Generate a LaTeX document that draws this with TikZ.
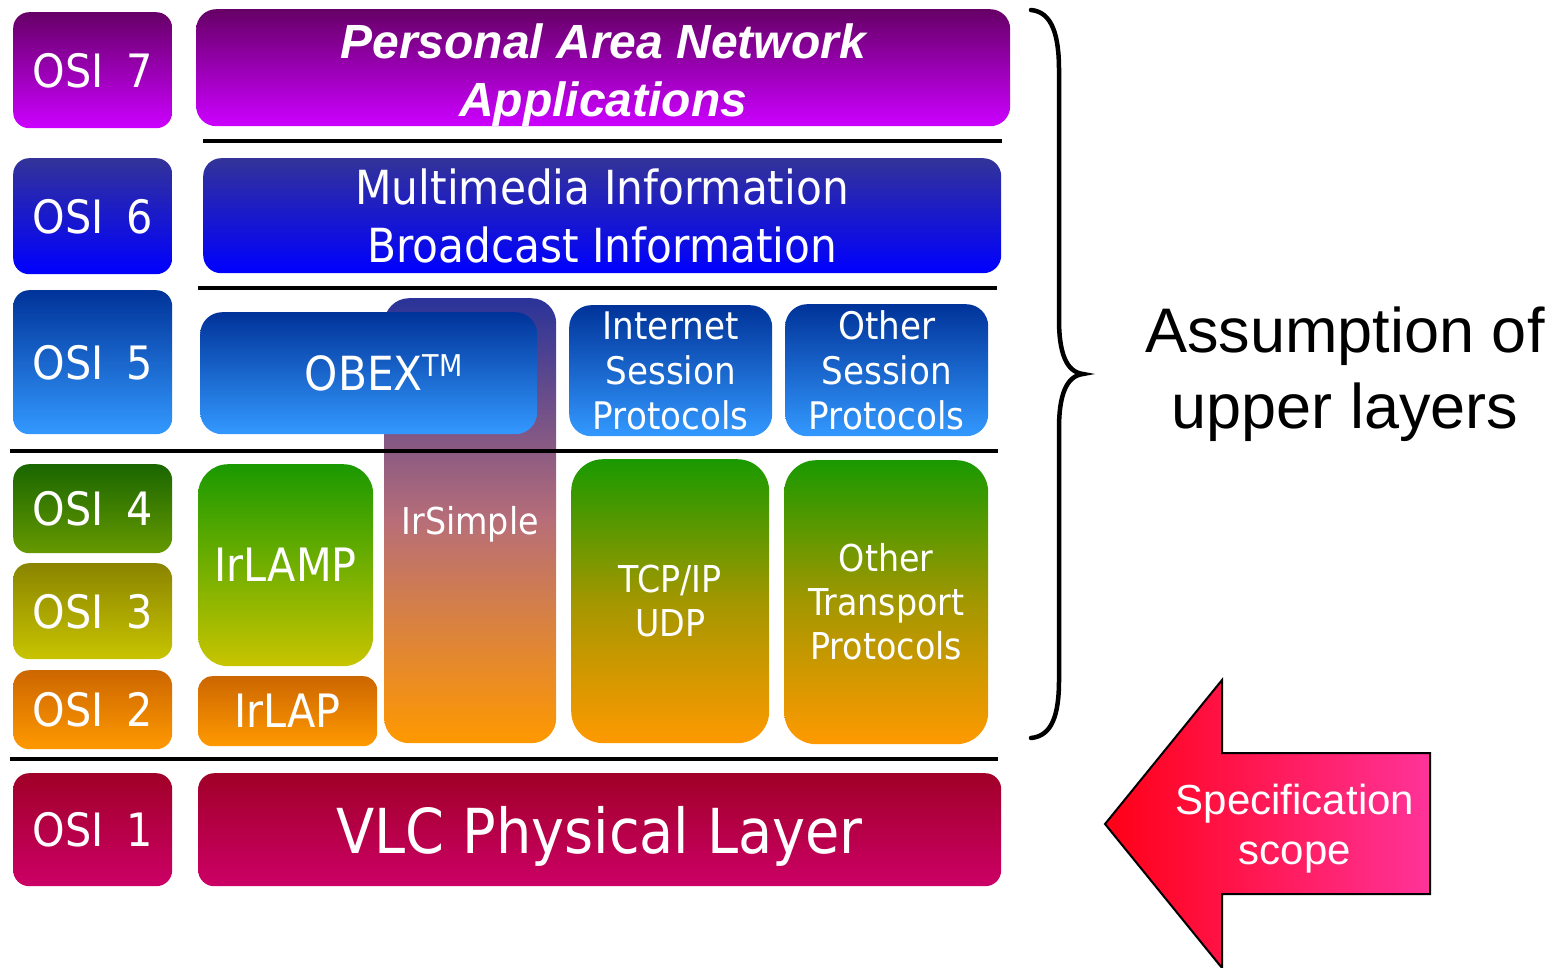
\documentclass[tikz,border=0pt]{standalone}
\usepackage{fontspec}
\newfontfamily\tah{DejaVu Sans}[FakeStretch=0.9]
\newfontfamily\ari{Liberation Sans}
\definecolor{cSevT}{HTML}{660066}
\definecolor{cSevB}{HTML}{CC00FF}
\definecolor{cSixT}{HTML}{333399}
\definecolor{cSixB}{HTML}{0000FF}
\definecolor{cFivT}{HTML}{003399}
\definecolor{cFivB}{HTML}{3399FF}
\definecolor{cFouT}{HTML}{1A6600}
\definecolor{cFouB}{HTML}{669900}
\definecolor{cThrT}{HTML}{8A8400}
\definecolor{cThrB}{HTML}{C8C400}
\definecolor{cTwoT}{HTML}{CC6600}
\definecolor{cTwoB}{HTML}{FF9900}
\definecolor{cOneT}{HTML}{A00028}
\definecolor{cOneB}{HTML}{CC0066}
\definecolor{cGrn}{HTML}{1A9900}
\definecolor{cOlv}{HTML}{A39700}
\definecolor{cIrs}{HTML}{2A3399}
\definecolor{cIrm}{HTML}{B86E78}
\definecolor{cArL}{HTML}{FF0016}
\definecolor{cArR}{HTML}{FF3399}
\newcommand{\osilabel}[1]{OSI\hspace{0.5em}#1}
\tikzset{
  lay/.style={anchor=north west, inner sep=0pt, text=white, align=center},
  osi/.style={lay, rounded corners=16pt, minimum width=159pt, text depth=0pt, font=\tah\fontsize{46}{50}\selectfont},
  sep/.style={line width=4pt, black},
  grad/.style n args={2}{top color=#1, bottom color=#2},
  tri/.style n args={3}{top color=#1, bottom color=#3, middle color=#2},
  small/.style={font=\tah\fontsize{38}{45}\selectfont},
}
\begin{document}
\begin{tikzpicture}[x=1pt,y=-1pt]
\useasboundingbox (0,0) rectangle (1552,968);
% OSI column
\node[osi, grad={cSevT}{cSevB}, minimum height=116pt] (osi7) at (13,12) {\osilabel{7}};
\node[osi, grad={cSixT}{cSixB}, minimum height=116pt] (osi6) at (13,158) {\osilabel{6}};
\node[osi, grad={cFivT}{cFivB}, minimum height=144pt] (osi5) at (13,290) {\osilabel{5}};
\node[osi, grad={cFouT}{cFouB}, minimum height=89pt] (osi4) at (13,464) {\osilabel{4}};
\node[osi, grad={cThrT}{cThrB}, minimum height=96pt] (osi3) at (13,563) {\osilabel{3}};
\node[osi, grad={cTwoT}{cTwoB}, minimum height=79pt] (osi2) at (13,670) {\osilabel{2}};
\node[osi, grad={cOneT}{cOneB}, minimum height=113pt] (osi1) at (13,773) {\osilabel{1}};
% layer boxes
\node[lay, rounded corners=20pt, grad={cSevT}{cSevB}, minimum width=814pt, minimum height=116pt,
  font=\ari\bfseries\itshape\fontsize{48}{58}\selectfont] (pan) at (196,9) {\rule{0pt}{49pt}Personal Area Network\\Applications};
\node[lay, rounded corners=18pt, grad={cSixT}{cSixB}, minimum width=798pt, minimum height=115pt,
  font=\tah\fontsize{47}{58}\selectfont] (mm) at (203,158) {Multimedia Information\\Broadcast Information};
\node[lay, rounded corners=25pt, tri={cIrs}{cIrm}{cTwoB}, minimum width=172pt, minimum height=445pt,
  text depth=0pt, font=\tah\fontsize{37}{44}\selectfont] (irs) at (384,298) {IrSimple};
\node[lay, rounded corners=22pt, grad={cFivT}{cFivB}, minimum width=337pt, minimum height=122pt,
  font=\tah\fontsize{47}{50}\selectfont] (obex) at (200,312) {\hspace*{30pt}OBEX\raisebox{14pt}{\fontsize{30}{30}\selectfont TM}};
\node[lay, small, rounded corners=22pt, grad={cFivT}{cFivB}, minimum width=203pt, minimum height=131pt] (isp) at (569,305) {Internet\\Session\\Protocols};
\node[lay, small, rounded corners=22pt, grad={cFivT}{cFivB}, minimum width=203pt, minimum height=132pt] (osp) at (785,304) {Other\\Session\\Protocols};
\node[lay, rounded corners=30pt, grad={cGrn}{cThrB}, minimum width=175pt, minimum height=202pt,
  text depth=0pt, font=\tah\fontsize{46}{50}\selectfont] (lamp) at (198,464) {IrLAMP};
\node[lay, rounded corners=14pt, grad={cTwoT}{cTwoB}, minimum width=179pt, minimum height=70pt,
  text depth=0pt, font=\tah\fontsize{46}{50}\selectfont] (lap) at (198,676) {IrLAP};
\node[lay, rounded corners=32pt, tri={cGrn}{cOlv}{cTwoB}, minimum width=198pt, minimum height=284pt,
  font=\tah\fontsize{37}{44}\selectfont] (tcp) at (571,459) {TCP/IP\\UDP};
\node[lay, rounded corners=32pt, tri={cGrn}{cOlv}{cTwoB}, minimum width=204pt, minimum height=284pt,
  font=\tah\fontsize{37}{44}\selectfont] (otp) at (784,460) {Other\\Transport\\Protocols};
\node[lay, rounded corners=16pt, grad={cOneT}{cOneB}, minimum width=803pt, minimum height=113pt,
  text depth=0pt, font=\tah\fontsize{62}{70}\selectfont] (vlc) at (198,773) {VLC Physical Layer};
% separators
\draw[sep] (203,141) -- (1002,141);
\draw[sep] (198,288) -- (997,288);
\draw[sep] (10,451) -- (998,451);
\draw[sep] (10,759) -- (998,759);
% brace
\draw[line width=4.5pt, line cap=round] (1031,10) .. controls (1052,12) and (1059,35) .. (1059,70)
  -- (1059,320) .. controls (1059,352) and (1066,372) .. (1083,374)
  .. controls (1066,376) and (1059,396) .. (1059,428)
  -- (1059,680) .. controls (1059,715) and (1052,736) .. (1031,738);
\node[font=\ari\fontsize{63}{76}\selectfont, align=center] (assump) at (1345,374) {Assumption of\\upper layers};
% specification arrow
\draw[line width=2pt, left color=cArL, right color=cArR] (1105,824) -- (1222,680) -- (1222,753) -- (1430,753)
  -- (1430,894) -- (1222,894) -- (1222,968) -- cycle;
\node[font=\ari\fontsize{42}{50}\selectfont, text=white, align=center] (spec) at (1295,829) {Specification\\scope};
\end{tikzpicture}
\end{document}
